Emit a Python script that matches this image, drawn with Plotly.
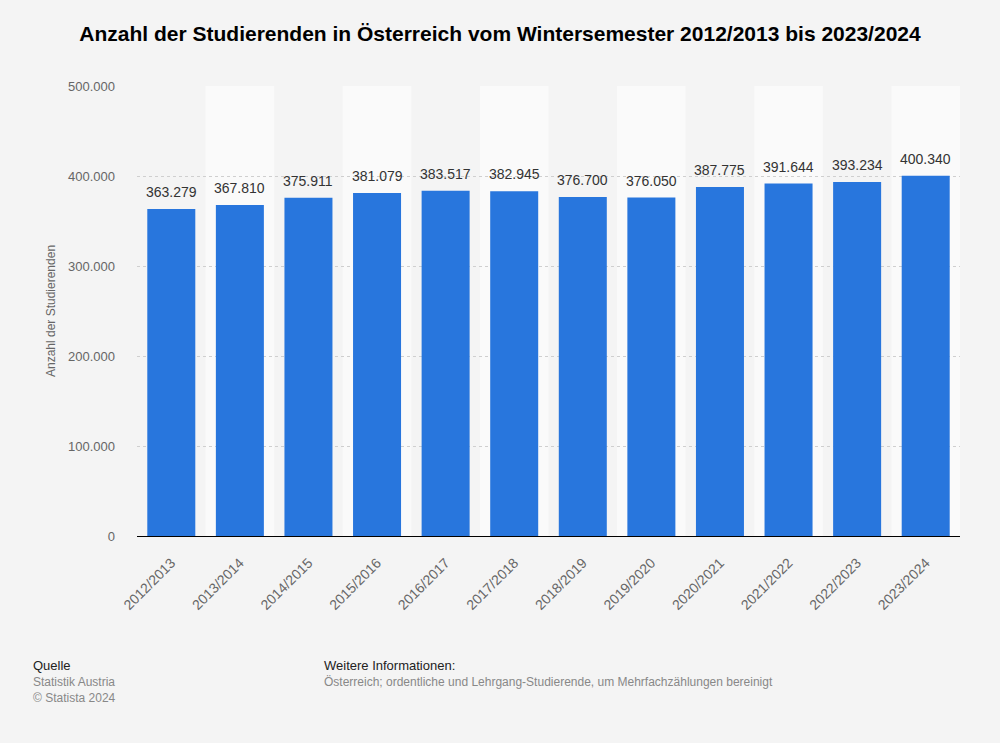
import plotly.graph_objects as go

categories = ["2012/2013", "2013/2014", "2014/2015", "2015/2016", "2016/2017", "2017/2018",
              "2018/2019", "2019/2020", "2020/2021", "2021/2022", "2022/2023", "2023/2024"]
students = [363279, 367810, 375911, 381079, 383517, 382945, 376700, 376050, 387775, 391644, 393234, 400340]
y_ticks = [0, 100000, 200000, 300000, 400000, 500000]

FONT = "Liberation Sans, Arial, sans-serif"
BAR = "#2876dd"
BG = "#f4f4f4"
L, R, T, B = 137, 40, 86, 207
W, H = 1000, 743

fig = go.Figure()
fig.add_trace(go.Bar(
    x=list(range(len(categories))), y=students,
    marker=dict(color=BAR, line=dict(width=0)),
    width=0.7,
    hoverinfo="skip",
))

shapes = []
for i in range(len(categories)):
    if i % 2 == 1:
        shapes.append(dict(type="rect", xref="x", yref="paper", x0=i - 0.5, x1=i + 0.5,
                           y0=0, y1=1, fillcolor="#fafafa", line=dict(width=0), layer="below"))

fig.update_layout(
    width=W, height=H,
    paper_bgcolor=BG, plot_bgcolor=BG,
    margin=dict(l=L, r=R, t=T, b=B),
    separators=",.",
    showlegend=False,
    shapes=shapes,
    title=dict(text="<b>Anzahl der Studierenden in Österreich vom Wintersemester 2012/2013 bis 2023/2024</b>",
               x=0.5, xanchor="center", y=1 - 34 / H, yanchor="middle",
               font=dict(family=FONT, size=21, color="#000000")),
    xaxis=dict(
        tickmode="array", tickvals=list(range(len(categories))), ticktext=categories,
        tickangle=-45, range=[-0.5, len(categories) - 0.5],
        tickfont=dict(family=FONT, size=14, color="#666666"),
        showgrid=False, zeroline=False, ticklabelstandoff=12,
        showline=True, linecolor="#000000", linewidth=1.3, ticks="",
    ),
    yaxis=dict(
        range=[0, 500000], tickvals=y_ticks, tickformat=",d",
        tickfont=dict(family=FONT, size=13, color="#666666"),
        showgrid=True, gridcolor="#cfcfcf", griddash="dot", gridwidth=1,
        zeroline=False, ticks="", ticklabelstandoff=21,
        title=dict(text="Anzahl der Studierenden", font=dict(family=FONT, size=12, color="#666666"),
                   standoff=9),
    ),
)

# value labels above the bars
for i, v in enumerate(students):
    fig.add_annotation(x=i, y=v, xref="x", yref="y", text=f"{v:,}".replace(",", "."),
                       showarrow=False, yanchor="bottom", yshift=7,
                       font=dict(family=FONT, size=14, color="#333333"))

def add_text(txt, x, y, color, size=12):
    fig.add_annotation(text=txt, x=(x - L) / (W - L - R), y=(H - B - y) / (H - T - B),
                       xref="paper", yref="paper", borderpad=0,
                       xanchor="left", yanchor="middle", showarrow=False,
                       font=dict(family=FONT, size=size, color=color))

add_text("Quelle", 32, 665, "#222222", 13)
add_text("Statistik Austria", 32, 682, "#888888")
add_text("© Statista 2024", 32, 698, "#888888")
add_text("Weitere Informationen:", 323, 665, "#222222", 13)
add_text("Österreich; ordentliche und Lehrgang-Studierende, um Mehrfachzählungen bereinigt", 323, 682, "#888888")

fig.write_html("out.html")
